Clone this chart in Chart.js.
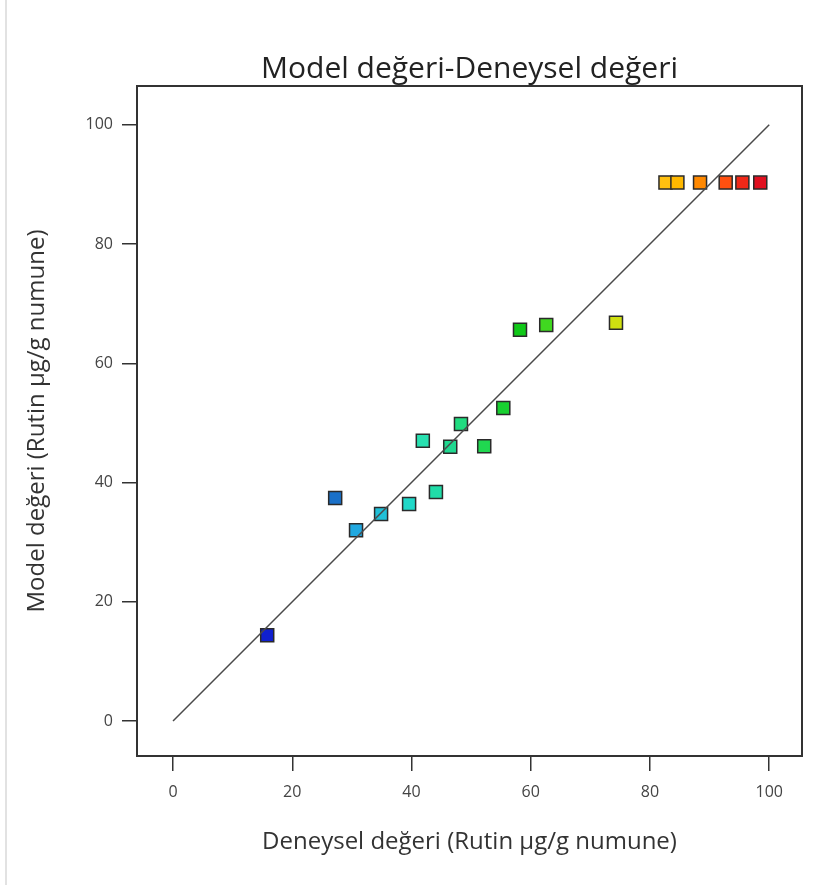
<!DOCTYPE html>
<html>
<head>
<meta charset="utf-8">
<title>Model değeri-Deneysel değeri</title>
<script src="https://cdn.jsdelivr.net/npm/chart.js@4.4.1/dist/chart.umd.min.js"></script>
<style>
  body { margin: 0; background: #fff; }
  #wrap { position: relative; width: 813px; height: 885px; }
  #edge { position: absolute; left: 5px; top: 0; width: 2px; height: 885px; background: #e2e2e2; }
</style>
</head>
<body>
<div id="wrap">
  <div id="edge"></div>
  <canvas id="fitChart"></canvas>
</div>
<script>
  // deneysel (x) ve model (y) değerleri
  const deneysel = [15.8, 27.2, 30.7, 34.9, 39.6, 44.1, 41.9, 46.5, 48.3, 52.2, 55.4, 58.2, 62.6, 74.3,
    82.6, 84.6, 88.4, 92.7, 95.5, 98.5];
  const model = [14.4, 37.4, 32.0, 34.7, 36.4, 38.4, 47.0, 46.0, 49.8, 46.1, 52.5, 65.6, 66.4, 66.8,
    90.3, 90.3, 90.3, 90.3, 90.3, 90.3];
  const pointColors = ["#1020d0", "#1a70c8", "#20a8e0", "#20c0d8", "#20d8c8", "#20dca8", "#28e0b0",
    "#20d890", "#20dc80", "#20d850", "#18d030", "#10c818", "#40d820", "#d0e010",
    "#ffc010", "#ffb800", "#ff8800", "#ff5010", "#f02818", "#e01020"];
  const lineX = [0, 100];
  const tickValues = [0, 20, 40, 60, 80, 100];

  const chartTitle = "Model değeri-Deneysel değeri";
  const xTitle = "Deneysel değeri (Rutin µg/g numune)";
  const yTitle = "Model değeri (Rutin µg/g numune)";

  const FONT = "'Open Sans', 'Noto Sans', sans-serif";

  const points = deneysel.map((x, i) => ({ x: x, y: model[i] }));
  const diag = lineX.map(v => ({ x: v, y: v }));

  const framePlugin = {
    id: "frame",
    beforeDatasetsDraw(chart) {
      const a = chart.chartArea;
      const c = chart.ctx;
      c.save();
      c.strokeStyle = "#333";
      c.lineWidth = 2;
      c.strokeRect(a.left, a.top, a.right - a.left, a.bottom - a.top);
      c.restore();
    },
    afterDraw(chart) {
      const a = chart.chartArea;
      const c = chart.ctx;
      c.save();
      c.font = "30px " + FONT;
      c.fillStyle = "#222";
      c.textAlign = "center";
      c.textBaseline = "middle";
      c.fillText(chartTitle, (a.left + a.right) / 2, 69);
      c.restore();
    }
  };

  function fixedTicks(scale) {
    scale.ticks = tickValues.map(v => ({ value: v }));
  }

  const ctx = document.getElementById("fitChart");

  new Chart(ctx, {
    data: {
      datasets: [
        {
          type: "line",
          data: diag,
          borderColor: "#4a4a4a",
          borderWidth: 1.5,
          pointRadius: 0,
          fill: false,
        },
        {
          type: "scatter",
          data: points,
          pointStyle: "rect",
          pointRadius: 9.2,
          pointHoverRadius: 9.2,
          backgroundColor: pointColors,
          borderColor: "#2a2a2a",
          borderWidth: 1.5,
        },
      ],
    },
    options: {
      responsive: true,
      maintainAspectRatio: false,
      animation: false,
      layout: { padding: { top: 86, right: 11, bottom: 0, left: 0 } },
      plugins: {
        legend: { display: false },
        tooltip: { enabled: false },
      },
      scales: {
        x: {
          type: "linear",
          min: -6.04,
          max: 105.5,
          afterBuildTicks: fixedTicks,
          afterFit(scale) { scale.height = 129; },
          border: { display: false },
          grid: { drawOnChartArea: false, tickLength: 15, color: "#333", lineWidth: 1.5 },
          ticks: { padding: 12, color: "#444", font: { family: FONT, size: 16 } },
          title: {
            display: true,
            text: xTitle,
            color: "#333",
            font: { family: FONT, size: 24 },
            padding: { top: 0, bottom: 28 },
          },
        },
        y: {
          type: "linear",
          min: -5.87,
          max: 106.5,
          afterBuildTicks: fixedTicks,
          afterFit(scale) { scale.width = 137; },
          border: { display: false },
          grid: { drawOnChartArea: false, tickLength: 15, color: "#333", lineWidth: 1.5 },
          ticks: { padding: 9, color: "#444", font: { family: FONT, size: 16 } },
          title: {
            display: true,
            text: yTitle,
            color: "#333",
            font: { family: FONT, size: 24 },
            padding: { top: 23, bottom: 0 },
          },
        },
      },
    },
    plugins: [framePlugin],
  });
</script>
</body>
</html>
